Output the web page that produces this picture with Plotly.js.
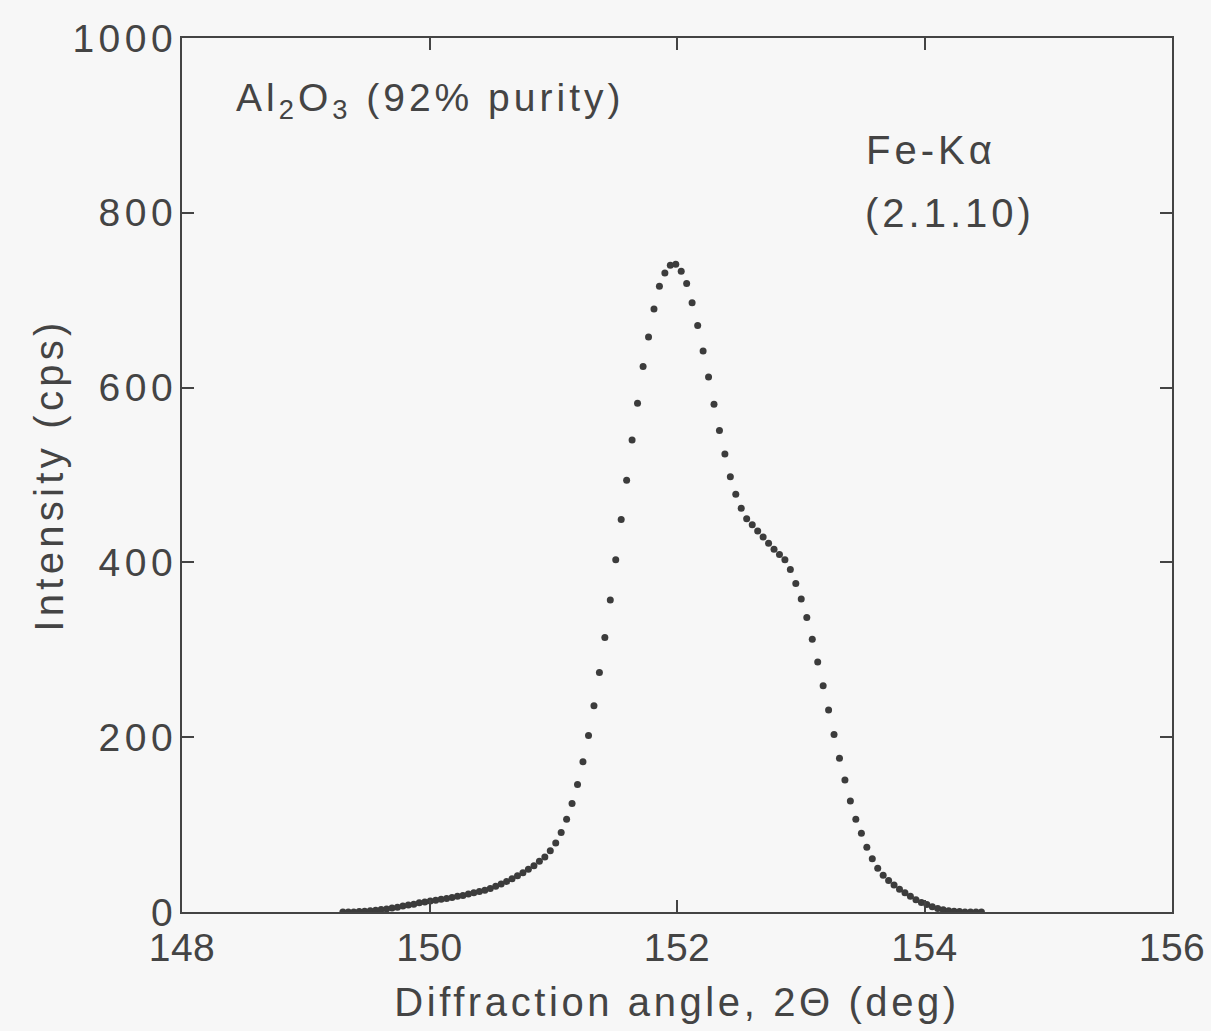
<!DOCTYPE html>
<html>
<head>
<meta charset="utf-8">
<script src="https://cdn.plot.ly/plotly-3.0.1.min.js"></script>
<style>
html,body{margin:0;padding:0;background:#f7f7f7;}
#chart .ytick text{letter-spacing:4.5px;}
#chart .xtick text{letter-spacing:0.5px;}
#chart .g-xtitle text{letter-spacing:3.6px;}
#chart .g-ytitle text{letter-spacing:4.3px;}
#chart .annotation .annotation-text{letter-spacing:4px;}
#chart .annotation:nth-of-type(2) .annotation-text,
#chart .annotation:nth-of-type(3) .annotation-text{letter-spacing:5.5px;}
</style>
</head>
<body>
<div id="chart" style="width:1211px;height:1031px;"></div>
<script>
// Diffraction angle 2θ (deg)
const angle = [
149.300,149.344,149.388,149.432,149.476,149.521,149.565,149.609,149.653,149.697,
149.741,149.785,149.829,149.873,149.917,149.962,150.006,150.050,150.094,150.138,
150.182,150.226,150.270,150.314,150.358,150.403,150.447,150.491,150.535,150.579,
150.623,150.667,150.711,150.755,150.799,150.844,150.888,150.932,150.976,151.020,
151.064,151.108,151.152,151.196,151.240,151.285,151.329,151.373,151.417,151.461,
151.505,151.549,151.593,151.637,151.681,151.726,151.770,151.814,151.858,151.902,
151.946,151.990,152.034,152.078,152.122,152.167,152.211,152.255,152.299,152.343,
152.387,152.431,152.475,152.519,152.563,152.608,152.652,152.696,152.740,152.784,
152.828,152.872,152.916,152.960,153.004,153.049,153.093,153.137,153.181,153.225,
153.269,153.313,153.357,153.401,153.445,153.490,153.534,153.578,153.622,153.666,
153.710,153.754,153.798,153.842,153.886,153.931,153.975,154.019,154.063,154.107,
154.151,154.195,154.239,154.283,154.327,154.372,154.416,154.460
];
// Intensity (cps)
const intensity = [
0,0,0,0.5,1,1.5,2,3,3.5,4.5,
5.5,7,8,9,10.5,11.5,12.5,13.5,14.5,15.5,
16.5,18,19,20.5,22,23.5,25,27,29.5,32,
35,38,41.5,45,49,53,58,63,70,79,
91,106,124,146,172,202,236,274,314,357,
403,449,494,540,582,624,658,690,716,731,
740,741,733,719,697,671,642,612,581,551,
524,498,478,462,450,443,436,429,422,415,
409,403,392,376,358,337,312,286,259,231,
203,176,151,127,106,90,74,61,50,42,
36,31,26,22,18,14,11,8.5,6,4,
2.5,1.5,1,0.5,0,0,0,0
];
const xTicks = [148,150,152,154,156];
const yTicks = [0,200,400,600,800,1000];

const ink = '#444444';
const fontFam = 'Liberation Sans, Arial, sans-serif';

const trace = {
  x: angle, y: intensity, type: 'scatter', mode: 'markers',
  marker: {size: 7, color: '#3c3c3c'},
  hoverinfo: 'skip', showlegend: false
};

const axisCommon = {
  ticks: 'inside', ticklen: 12, tickwidth: 2, tickcolor: ink,
  showline: true, linecolor: ink, linewidth: 2, mirror: 'ticks',
  showgrid: false, zeroline: false,
  tickfont: {family: fontFam, size: 39, color: ink}
};

const layout = {
  width: 1211, height: 1031,
  paper_bgcolor: '#f7f7f7', plot_bgcolor: '#f7f7f7',
  margin: {l: 182, r: 39, t: 38, b: 119},
  font: {family: fontFam, color: ink, size: 39},
  xaxis: Object.assign({}, axisCommon, {
    range: [148, 156], tickvals: xTicks, ticktext: xTicks.map(String),
    ticklabelstandoff: 0,
    title: {text: 'Diffraction angle, 2Θ (deg)', font: {family: fontFam, size: 40, color: ink}, standoff: 20}
  }),
  yaxis: Object.assign({}, axisCommon, {
    range: [0, 1000], tickvals: yTicks, ticktext: yTicks.map(String),
    ticklabelstandoff: -5,
    title: {text: 'Intensity (cps)', font: {family: fontFam, size: 40, color: ink}, standoff: 14}
  }),
  annotations: [
    {x: 150.00, y: 929, xref: 'x', yref: 'y', xanchor: 'center', yanchor: 'middle', showarrow: false,
     text: 'Al<sub>2</sub>O<sub>3</sub> (92% purity)', font: {family: fontFam, size: 39, color: ink}},
    {x: 154.05, y: 872, xref: 'x', yref: 'y', xanchor: 'center', yanchor: 'middle', showarrow: false,
     text: 'Fe-Kα', font: {family: fontFam, size: 40, color: ink}},
    {x: 154.21, y: 800, xref: 'x', yref: 'y', xanchor: 'center', yanchor: 'middle', showarrow: false,
     text: '(2.1.10)', font: {family: fontFam, size: 40, color: ink}}
  ]
};

Plotly.newPlot('chart', [trace], layout, {displayModeBar: false, staticPlot: true});
</script>
</body>
</html>
